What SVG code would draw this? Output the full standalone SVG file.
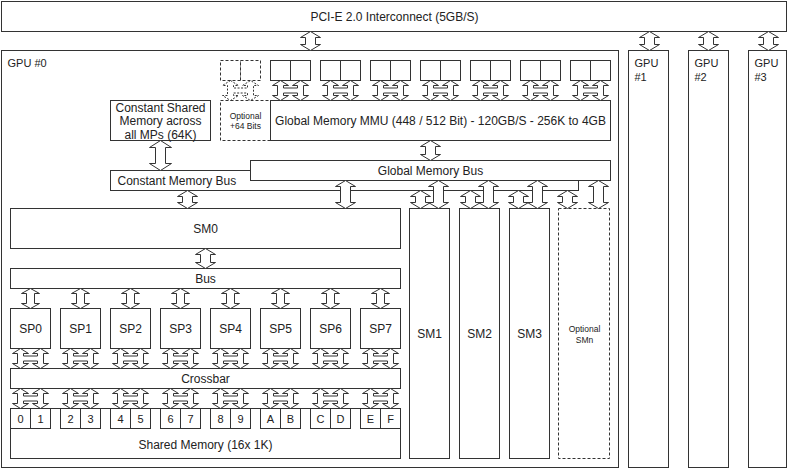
<svg xmlns="http://www.w3.org/2000/svg" xmlns:xlink="http://www.w3.org/1999/xlink" width="788" height="468" viewBox="0 0 788 468">
<style>
.b{fill:#fff;stroke:#333;stroke-width:1}
.d{fill:#fff;stroke:#333;stroke-width:1;stroke-dasharray:3,2}
.a{fill:#fff;stroke:#333;stroke-width:1;stroke-linejoin:miter}
.ad{fill:#fff;stroke:#333;stroke-width:1;stroke-dasharray:2,1.5}
text{font-family:"Liberation Sans",Arial,sans-serif;fill:#222;font-size:12px;dominant-baseline:central}
.c{text-anchor:middle}
.s{font-size:8.5px}
.n{font-size:11px}
</style>
<defs>
<path id="big19" d="M0,0 L10,6 L5,6 L5,13 L10,13 L0,19 L-10,13 L-5,13 L-5,6 L-10,6 Z"/>
<path id="big20" d="M0,0 L10,6 L5,6 L5,14 L10,14 L0,20 L-10,14 L-5,14 L-5,6 L-10,6 Z"/>
<path id="big18" d="M0,0 L10,6 L5,6 L5,12 L10,12 L0,18 L-10,12 L-5,12 L-5,6 L-10,6 Z"/>
<path id="big28" d="M0,0 L10,6 L5,6 L5,22 L10,22 L0,28 L-10,22 L-5,22 L-5,6 L-10,6 Z"/>
<path id="big30" d="M0,0 L11,7 L5,7 L5,23 L11,23 L0,30 L-11,23 L-5,23 L-5,7 L-11,7 Z"/>
<path id="med20" d="M0,0 L9,5 L4,5 L4,15 L9,15 L0,20 L-9,15 L-4,15 L-4,5 L-9,5 Z"/>
<path id="pair" d="M-10,0 L-2,5 L-7,5 L-7,7.5 L7,7.5 L7,5 L2,5 L10,0 L18,5 L13,5 L13,15 L18,15 L10,20 L2,15 L7,15 L7,12.5 L-7,12.5 L-7,15 L-2,15 L-10,20 L-18,15 L-13,15 L-13,5 L-18,5 Z"/>
</defs>
<rect width="788" height="468" fill="#fff"/>
<g transform="translate(0.5,0.5)">
<g id="pcie"><rect class="b" x="1" y="1" width="785" height="30"/><text class="c" x="394" y="16">PCI-E 2.0 Interconnect (5GB/S)</text></g>
<g id="gpu0"><rect class="b" x="1" y="50" width="617" height="417"/><text x="7" y="62" class="n">GPU #0</text></g>
<g id="gpu1"><rect class="b" x="628" y="50" width="40" height="417"/><text x="634" y="62" class="n">GPU</text><text x="634" y="76" class="n">#1</text></g>
<g id="gpu2"><rect class="b" x="688" y="50" width="40" height="417"/><text x="694" y="62" class="n">GPU</text><text x="694" y="76" class="n">#2</text></g>
<g id="gpu3"><rect class="b" x="748" y="50" width="38" height="417"/><text x="754" y="62" class="n">GPU</text><text x="754" y="76" class="n">#3</text></g>

<g id="memchips">
<rect class="d" x="220" y="60" width="20" height="20"/><rect class="d" x="240" y="60" width="20" height="20"/>
<rect class="b" x="270" y="60" width="20" height="20"/><rect class="b" x="290" y="60" width="20" height="20"/>
<rect class="b" x="320" y="60" width="20" height="20"/><rect class="b" x="340" y="60" width="20" height="20"/>
<rect class="b" x="370" y="60" width="20" height="20"/><rect class="b" x="390" y="60" width="20" height="20"/>
<rect class="b" x="420" y="60" width="20" height="20"/><rect class="b" x="440" y="60" width="20" height="20"/>
<rect class="b" x="470" y="60" width="20" height="20"/><rect class="b" x="490" y="60" width="20" height="20"/>
<rect class="b" x="520" y="60" width="20" height="20"/><rect class="b" x="540" y="60" width="20" height="20"/>
<rect class="b" x="570" y="60" width="20" height="20"/><rect class="b" x="590" y="60" width="20" height="20"/>
</g>
<g id="opt64"><rect class="d" x="220" y="100" width="50" height="40"/><text class="c s" x="245" y="115">Optional</text><text class="c s" x="245" y="125">+64 Bits</text></g>
<g id="mmu"><rect class="b" x="270" y="100" width="340" height="40"/><text class="c" x="440" y="120">Global Memory MMU (448 / 512 Bit) - 120GB/S - 256K to 4GB</text></g>
<g id="constmem"><rect class="b" x="110" y="100" width="100" height="40"/><text class="c" x="160" y="107">Constant Shared</text><text class="c" x="160" y="120">Memory across</text><text class="c" x="160" y="134">all MPs (64K)</text></g>
<g id="constbus"><rect class="b" x="110" y="170" width="468" height="20"/><text x="117" y="180">Constant Memory Bus</text></g>
<g id="globalbus"><rect class="b" x="250" y="160" width="360" height="20"/><text class="c" x="430" y="170">Global Memory Bus</text></g>
<g id="sm0"><rect class="b" x="10" y="208" width="390" height="40"/><text class="c" x="205" y="228">SM0</text></g>
<g id="bus"><rect class="b" x="10" y="268" width="390" height="20"/><text class="c" x="205" y="278">Bus</text></g>
<g id="sp0"><rect class="b" x="10" y="308" width="40" height="40"/><text class="c" x="30" y="328">SP0</text></g>
<g id="sp1"><rect class="b" x="60" y="308" width="40" height="40"/><text class="c" x="80" y="328">SP1</text></g>
<g id="sp2"><rect class="b" x="110" y="308" width="40" height="40"/><text class="c" x="130" y="328">SP2</text></g>
<g id="sp3"><rect class="b" x="160" y="308" width="40" height="40"/><text class="c" x="180" y="328">SP3</text></g>
<g id="sp4"><rect class="b" x="210" y="308" width="40" height="40"/><text class="c" x="230" y="328">SP4</text></g>
<g id="sp5"><rect class="b" x="260" y="308" width="40" height="40"/><text class="c" x="280" y="328">SP5</text></g>
<g id="sp6"><rect class="b" x="310" y="308" width="40" height="40"/><text class="c" x="330" y="328">SP6</text></g>
<g id="sp7"><rect class="b" x="360" y="308" width="40" height="40"/><text class="c" x="380" y="328">SP7</text></g>
<g id="crossbar"><rect class="b" x="10" y="368" width="390" height="20"/><text class="c" x="205" y="378">Crossbar</text></g>
<g id="sharedmem"><rect class="b" x="10" y="408" width="390" height="50"/><text class="c" x="205" y="444">Shared Memory (16x 1K)</text>
<g class="n">
<rect class="b" x="10" y="408" width="20" height="20"/><text class="c n" x="20" y="418">0</text>
<rect class="b" x="30" y="408" width="20" height="20"/><text class="c n" x="40" y="418">1</text>
<rect class="b" x="60" y="408" width="20" height="20"/><text class="c n" x="70" y="418">2</text>
<rect class="b" x="80" y="408" width="20" height="20"/><text class="c n" x="90" y="418">3</text>
<rect class="b" x="110" y="408" width="20" height="20"/><text class="c n" x="120" y="418">4</text>
<rect class="b" x="130" y="408" width="20" height="20"/><text class="c n" x="140" y="418">5</text>
<rect class="b" x="160" y="408" width="20" height="20"/><text class="c n" x="170" y="418">6</text>
<rect class="b" x="180" y="408" width="20" height="20"/><text class="c n" x="190" y="418">7</text>
<rect class="b" x="210" y="408" width="20" height="20"/><text class="c n" x="220" y="418">8</text>
<rect class="b" x="230" y="408" width="20" height="20"/><text class="c n" x="240" y="418">9</text>
<rect class="b" x="260" y="408" width="20" height="20"/><text class="c n" x="270" y="418">A</text>
<rect class="b" x="280" y="408" width="20" height="20"/><text class="c n" x="290" y="418">B</text>
<rect class="b" x="310" y="408" width="20" height="20"/><text class="c n" x="320" y="418">C</text>
<rect class="b" x="330" y="408" width="20" height="20"/><text class="c n" x="340" y="418">D</text>
<rect class="b" x="360" y="408" width="20" height="20"/><text class="c n" x="370" y="418">E</text>
<rect class="b" x="380" y="408" width="20" height="20"/><text class="c n" x="390" y="418">F</text>
</g></g>
<g id="sm1"><rect class="b" x="409" y="208" width="40" height="250"/><text class="c" x="429" y="333">SM1</text></g>
<g id="sm2"><rect class="b" x="459" y="208" width="40" height="250"/><text class="c" x="479" y="333">SM2</text></g>
<g id="sm3"><rect class="b" x="509" y="208" width="40" height="250"/><text class="c" x="529" y="333">SM3</text></g>
<g id="smn"><rect class="d" x="558" y="208" width="51" height="250"/><text class="c s" x="584" y="328">Optional</text><text class="c s" x="584" y="339">SMn</text></g>

<g id="connectors">
<use href="#big19" class="a" x="310" y="31"/>
<use href="#big19" class="a" x="649" y="31"/>
<use href="#big19" class="a" x="708" y="31"/>
<use href="#big19" class="a" x="768" y="31"/>
<use href="#pair" class="ad" x="240" y="80"/>
<use href="#pair" class="a" x="290" y="80"/>
<use href="#pair" class="a" x="340" y="80"/>
<use href="#pair" class="a" x="390" y="80"/>
<use href="#pair" class="a" x="440" y="80"/>
<use href="#pair" class="a" x="490" y="80"/>
<use href="#pair" class="a" x="540" y="80"/>
<use href="#pair" class="a" x="590" y="80"/>
<use href="#big30" class="a" x="160" y="140"/>
<use href="#big20" class="a" x="430" y="140"/>
<use href="#big18" class="a" x="187" y="190"/>
<use href="#big28" class="a" x="345" y="180"/>
<use href="#big18" class="a" x="420" y="190"/>
<use href="#big28" class="a" x="438" y="180"/>
<use href="#big18" class="a" x="470" y="190"/>
<use href="#big28" class="a" x="488" y="180"/>
<use href="#big18" class="a" x="518" y="190"/>
<use href="#big28" class="a" x="537" y="180"/>
<use href="#big18" class="a" x="567" y="190"/>
<use href="#big28" class="a" x="598" y="180"/>
<use href="#big20" class="a" x="205" y="248"/>
<use href="#med20" class="a" x="30" y="288"/>
<use href="#med20" class="a" x="80" y="288"/>
<use href="#med20" class="a" x="130" y="288"/>
<use href="#med20" class="a" x="180" y="288"/>
<use href="#med20" class="a" x="230" y="288"/>
<use href="#med20" class="a" x="280" y="288"/>
<use href="#med20" class="a" x="330" y="288"/>
<use href="#med20" class="a" x="380" y="288"/>
<use href="#pair" class="a" x="30" y="348"/>
<use href="#pair" class="a" x="80" y="348"/>
<use href="#pair" class="a" x="130" y="348"/>
<use href="#pair" class="a" x="180" y="348"/>
<use href="#pair" class="a" x="230" y="348"/>
<use href="#pair" class="a" x="280" y="348"/>
<use href="#pair" class="a" x="330" y="348"/>
<use href="#pair" class="a" x="380" y="348"/>
<use href="#pair" class="a" x="30" y="388"/>
<use href="#pair" class="a" x="80" y="388"/>
<use href="#pair" class="a" x="130" y="388"/>
<use href="#pair" class="a" x="180" y="388"/>
<use href="#pair" class="a" x="230" y="388"/>
<use href="#pair" class="a" x="280" y="388"/>
<use href="#pair" class="a" x="330" y="388"/>
<use href="#pair" class="a" x="380" y="388"/>
</g>
</g>
</svg>
